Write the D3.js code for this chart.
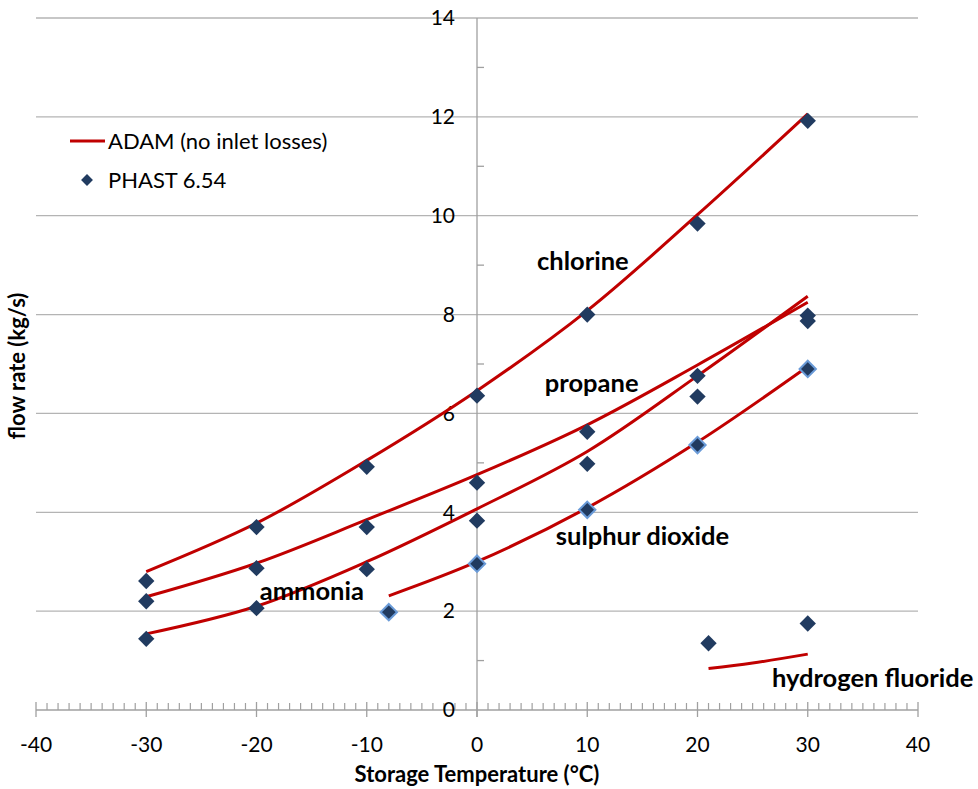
<!DOCTYPE html>
<meta charset="utf-8">
<style>
body { margin: 0; background: #fff; }
svg text { font-family: Lato, "Open Sans", sans-serif; fill: #000; }
.tick-label { font-size: 21px; }
.axis-title { font-size: 22px; font-weight: 700; }
.name { font-size: 25.5px; font-weight: 700; }
.legend { font-size: 22px; }
</style>
<script src="https://d3js.org/d3.v7.min.js"></script>
<div id="chart"></div>
<script>

// temperatures (°C) and flow rates (kg/s)
var temps = [-30, -20, -10, 0, 10, 20, 30];

// ADAM (no inlet losses) curves
var chlorineAdam = [2.80, 3.78, 5.05, 6.46, 8.08, 10.02, 12.06];
var propaneAdam  = [2.29, 2.97, 3.85, 4.76, 5.77, 6.98, 8.25];
var ammoniaAdam  = [1.54, 2.10, 3.00, 4.07, 5.23, 6.76, 8.37];
var so2Temps     = [-8, 0, 10, 20, 30];
var so2Adam      = [2.31, 3.00, 4.09, 5.42, 6.95];
var hfAdamTemps  = [21, 25, 30];
var hfAdam       = [0.84, 0.95, 1.13];

// PHAST 6.54 points
var chlorinePhast = [2.61, 3.70, 4.92, 6.36, 8.00, 9.84, 11.92];
var propanePhast  = [2.20, 2.87, 3.70, 4.60, 5.63, 6.76, 7.98];
var ammoniaPhast  = [1.44, 2.06, 2.85, 3.83, 4.98, 6.34, 7.87];
var so2Phast      = [1.98, 2.96, 4.05, 5.36, 6.90];
var hfPhastTemps  = [21, 30];
var hfPhast       = [1.35, 1.75];

var xTicks = [-40, -30, -20, -10, 0, 10, 20, 30, 40];
var yTicks = [0, 2, 4, 6, 8, 10, 12, 14];

var W = 978, H = 789;
var red = "#c00000", navy = "#213b60", grid = "#b4b4b4", axisCol = "#a0a0a0";

var svg = d3.select("#chart").append("svg")
    .attr("width", W)
    .attr("height", H);

var x = d3.scaleLinear().domain([-40, 40]).range([36, 918]);
var y = d3.scaleLinear().domain([0, 14]).range([710, 18]);

function zip(xs, ys) { return xs.map(function(t, i) { return [t, ys[i]]; }); }

var curves = [
  zip(temps, chlorineAdam),
  zip(temps, propaneAdam),
  zip(temps, ammoniaAdam),
  zip(so2Temps, so2Adam),
  zip(hfAdamTemps, hfAdam)
];
var points = [].concat(
  zip(temps, chlorinePhast),
  zip(temps, propanePhast),
  zip(temps, ammoniaPhast),
  zip(hfPhastTemps, hfPhast)
);
var so2Points = zip(so2Temps, so2Phast);

// horizontal gridlines
svg.append("g").selectAll("line")
  .data(yTicks.filter(function(d) { return d > 0; }))
  .enter().append("line")
    .attr("x1", x(-40)).attr("x2", x(40))
    .attr("y1", function(d) { return y(d); })
    .attr("y2", function(d) { return y(d); })
    .attr("stroke", grid)
    .attr("stroke-width", 1.3);

// vertical axis at x = 0 with minor ticks
svg.append("line")
  .attr("x1", x(0)).attr("x2", x(0))
  .attr("y1", y(14)).attr("y2", y(0) + 7)
  .attr("stroke", axisCol).attr("stroke-width", 1.3);
svg.append("g").selectAll("line")
  .data(d3.range(1, 14, 2))
  .enter().append("line")
    .attr("x1", x(0)).attr("x2", x(0) + 7)
    .attr("y1", function(d) { return y(d); })
    .attr("y2", function(d) { return y(d); })
    .attr("stroke", axisCol).attr("stroke-width", 1.3);

// horizontal axis at y = 0 with major and minor ticks
svg.append("line")
  .attr("x1", x(-40)).attr("x2", x(40))
  .attr("y1", y(0)).attr("y2", y(0))
  .attr("stroke", axisCol).attr("stroke-width", 1.3);
svg.append("g").selectAll("line")
  .data(d3.range(-40, 41).filter(function(d) { return d % 10 !== 0; }))
  .enter().append("line")
    .attr("x1", function(d) { return x(d); })
    .attr("x2", function(d) { return x(d); })
    .attr("y1", y(0) - 7).attr("y2", y(0))
    .attr("stroke", axisCol).attr("stroke-width", 1.2);
svg.append("g").selectAll("line")
  .data(xTicks)
  .enter().append("line")
    .attr("x1", function(d) { return x(d); })
    .attr("x2", function(d) { return x(d); })
    .attr("y1", y(0) - 8).attr("y2", y(0) + 7)
    .attr("stroke", axisCol).attr("stroke-width", 1.3);

// tick labels
svg.append("g").selectAll("text")
  .data(yTicks)
  .enter().append("text")
    .attr("class", "tick-label")
    .attr("x", x(0) - 22)
    .attr("y", function(d) { return y(d); })
    .attr("dy", "0.35em")
    .attr("text-anchor", "end")
    .text(function(d) { return d; });
svg.append("g").selectAll("text")
  .data(xTicks)
  .enter().append("text")
    .attr("class", "tick-label")
    .attr("x", function(d) { return x(d); })
    .attr("y", y(0) + 35)
    .attr("dy", "0.35em")
    .attr("text-anchor", "middle")
    .text(function(d) { return d; });

// axis titles
svg.append("text")
  .attr("class", "axis-title")
  .attr("transform", "translate(25,366) rotate(-90)")
  .attr("text-anchor", "middle")
  .text("flow rate (kg/s)");
svg.append("text")
  .attr("class", "axis-title")
  .attr("x", x(0)).attr("y", 782)
  .attr("text-anchor", "middle")
  .text("Storage Temperature (°C)");

// ADAM curves
var line = d3.line()
  .x(function(d) { return x(d[0]); })
  .y(function(d) { return y(d[1]); })
  .curve(d3.curveCatmullRom.alpha(0.5));
svg.append("g").selectAll("path")
  .data(curves)
  .enter().append("path")
    .attr("d", line)
    .attr("fill", "none")
    .attr("stroke", red)
    .attr("stroke-width", 3);

// PHAST diamonds
var diamond = d3.symbol().type(d3.symbolDiamond2).size(170);
svg.append("g").selectAll("path")
  .data(points)
  .enter().append("path")
    .attr("d", diamond)
    .attr("transform", function(d) { return "translate(" + x(d[0]) + "," + y(d[1]) + ")"; })
    .attr("fill", navy);
svg.append("g").selectAll("path")
  .data(so2Points)
  .enter().append("path")
    .attr("d", diamond)
    .attr("transform", function(d) { return "translate(" + x(d[0]) + "," + y(d[1]) + ")"; })
    .attr("fill", navy)
    .attr("stroke", "#6a9bd8")
    .attr("stroke-width", 2);

// substance names
var names = ["chlorine", "propane", "sulphur dioxide", "ammonia", "hydrogen fluoride"];
var nameAt = [[5.45, 8.91], [6.15, 6.44], [7.15, 3.34], [-19.7, 2.23], [26.75, 0.46]];
svg.append("g").selectAll("text")
  .data(names)
  .enter().append("text")
    .attr("class", "name")
    .attr("x", function(d, i) { return x(nameAt[i][0]); })
    .attr("y", function(d, i) { return y(nameAt[i][1]); })
    .text(function(d) { return d; });

// legend
var lg = svg.append("g").attr("transform", "translate(70,141)");
lg.append("line")
  .attr("x1", 0).attr("x2", 35)
  .attr("stroke", red).attr("stroke-width", 3);
lg.append("text")
  .attr("class", "legend")
  .attr("x", 38).attr("dy", "0.35em")
  .text("ADAM (no inlet losses)");
lg.append("path")
  .attr("d", d3.symbol().type(d3.symbolDiamond2).size(90))
  .attr("transform", "translate(17,39)")
  .attr("fill", navy);
lg.append("text")
  .attr("class", "legend")
  .attr("x", 38).attr("y", 39).attr("dy", "0.35em")
  .text("PHAST 6.54");

</script>
